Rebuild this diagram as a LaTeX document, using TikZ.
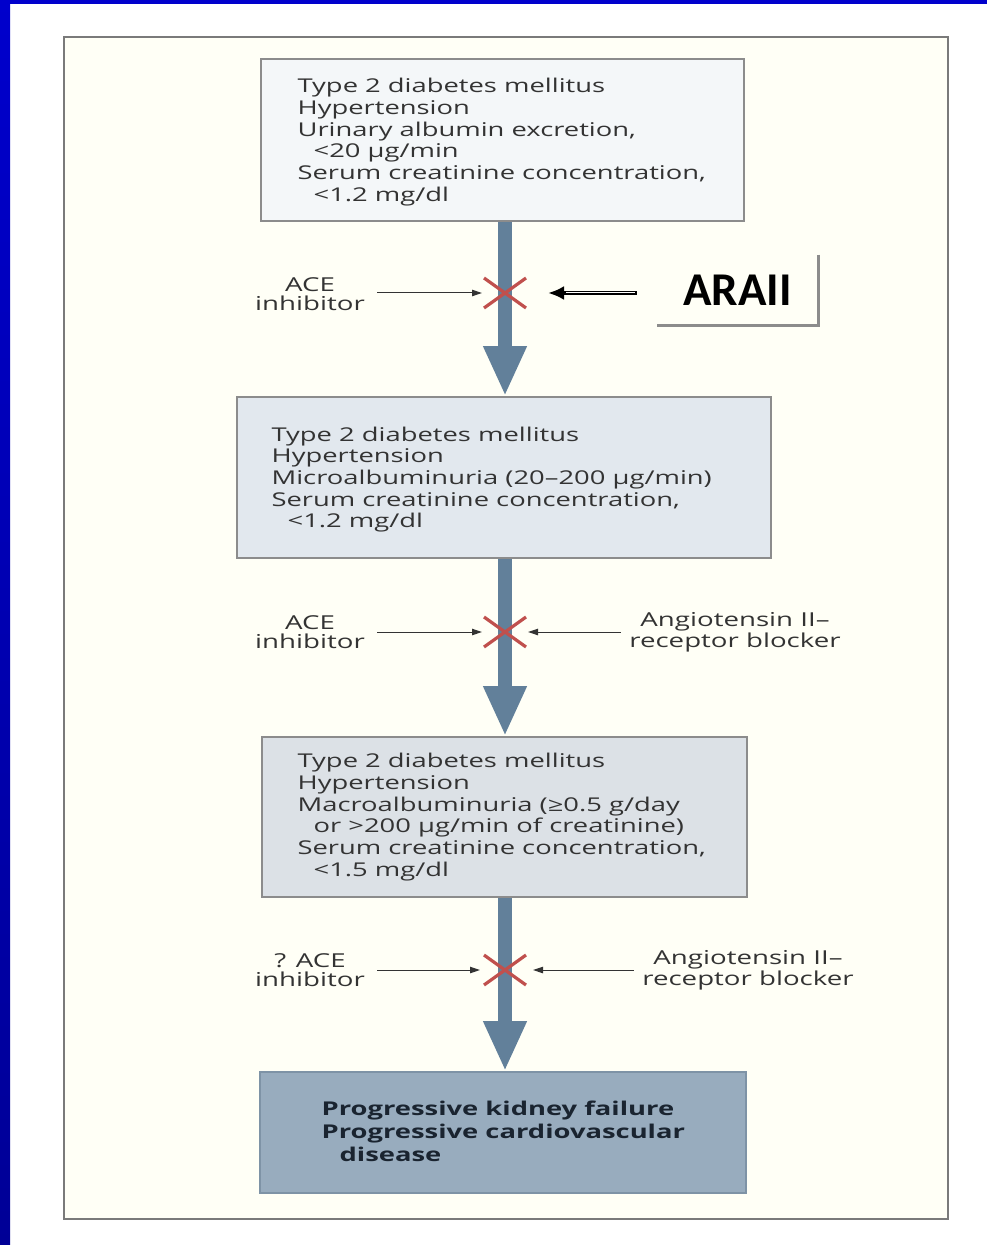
\documentclass[tikz,border=0pt]{standalone}
\usepackage{fontspec}
\setmainfont{Open Sans}
\newfontfamily\boxfont[FakeStretch=1.44]{Open Sans}
\newfontfamily\calfont{Carlito}
\usetikzlibrary{arrows.meta,calc}
\definecolor{blueA}{HTML}{0000CC}
\definecolor{blueB}{HTML}{000096}
\definecolor{cream}{HTML}{FFFFF6}
\definecolor{frameline}{HTML}{7A7A7A}
\definecolor{boxline}{HTML}{8C8C8C}
\definecolor{fillA}{HTML}{F4F7F9}
\definecolor{fillB}{HTML}{E2E8EE}
\definecolor{fillC}{HTML}{DCE1E6}
\definecolor{fillD}{HTML}{98ACBE}
\definecolor{lineD}{HTML}{7E93A6}
\definecolor{shaftc}{HTML}{62809A}
\definecolor{crossred}{HTML}{C0504D}
\definecolor{textgray}{HTML}{333333}
\definecolor{darktext}{HTML}{1A2430}
\begin{document}
\begin{tikzpicture}[x=0.5pt,y=-0.5pt,
  box/.style={draw=boxline, line width=0.8pt, inner sep=0pt},
  txt/.style={font=\boxfont\fontsize{9.5}{10.85}\selectfont, text=textgray, align=left, inner sep=0pt, anchor=west},
  boldtxt/.style={font=\boxfont\bfseries\fontsize{9.5}{11.5}\selectfont, text=darktext, align=left, inner sep=0pt, anchor=west},
  lab/.style={font=\boxfont\fontsize{9.6}{9.5}\selectfont, text=textgray, align=center, inner sep=0pt},
  shaft/.style={draw=shaftc, line width=7pt, -{Triangle[width=20pt,length=25pt]}},
  thinarrow/.style={draw=black!80, line width=0.5pt, -{Triangle[width=3.2pt,length=5pt]}},
  cross/.style={draw=crossred, line width=1.6pt},
]
\useasboundingbox (0,0) rectangle (987,1245);
\fill[white] (0,0) rectangle (987,1245);
\shade[top color=blueA, bottom color=blueB] (0,0) rectangle (10,1245);
\fill[blueA] (0,0) rectangle (987,4);
% outer frame
\draw[frameline, line width=1pt, fill=cream] (64,37) rectangle (948,1219);

% boxes
\node[box, fill=fillA, minimum width=241.5pt, minimum height=81pt] (b1) at (502.5,140) {};
\node[txt] (t1) at ($(b1.west)+(37,2)$) {Type 2 diabetes mellitus\\Hypertension\\Urinary albumin excretion,\\\hspace*{8pt}<20 μg/min\\Serum creatinine concentration,\\\hspace*{8pt}<1.2 mg/dl};

\node[box, fill=fillB, minimum width=267pt, minimum height=80.5pt] (b2) at (504,477.5) {};
\node[txt] (t2) at ($(b2.west)+(35,2)$) {Type 2 diabetes mellitus\\Hypertension\\Microalbuminuria (20–200 μg/min)\\Serum creatinine concentration,\\\hspace*{8pt}<1.2 mg/dl};

\node[box, fill=fillC, minimum width=242.5pt, minimum height=80pt] (b3) at (504.5,817) {};
\node[txt] (t3) at ($(b3.west)+(36,0)$) {Type 2 diabetes mellitus\\Hypertension\\Macroalbuminuria (≥0.5 g/day\\\hspace*{8pt}or >200 μg/min of creatinine)\\Serum creatinine concentration,\\\hspace*{8pt}<1.5 mg/dl};

\node[box, draw=lineD, fill=fillD, minimum width=243pt, minimum height=60.5pt] (b4) at (503,1132.5) {};
\node[boldtxt] (t4) at ($(b4.west)+(62,-1)$) {Progressive kidney failure\\Progressive cardiovascular\\\hspace*{9pt}disease};

% crossing points
\coordinate (x1) at (505,293);
\coordinate (x2) at (505,632);
\coordinate (x3) at (505,970);

% main shafts
\draw[shaft] (b1.south -| x1) -- (b2.north -| x1);
\draw[shaft] (b2.south -| x2) -- (b3.north -| x2);
\draw[shaft] (b3.south -| x3) -- (b4.north -| x3);

% red crosses
\foreach \c in {x1,x2,x3}{
  \draw[cross] ($(\c)+(-21,-15)$) -- ($(\c)+(21,15)$);
  \draw[cross] ($(\c)+(-21,15)$) -- ($(\c)+(21,-15)$);
}

% row 1
\node[lab] (ace1) at (310,294) {ACE\\inhibitor};
\coordinate (x1w) at (482,293);
\draw[thinarrow, shorten <=6pt] (ace1.east |- x1w) -- (x1w);
\node[minimum width=80.5pt, minimum height=35pt, inner sep=0pt, font=\calfont\bfseries\fontsize{23.5}{25}\selectfont] (araii) at (737.5,290) {ARAII};
\draw[boxline, line width=1.2pt] (araii.north east) -- (araii.south east) -- (araii.south west);
\coordinate (x1e) at (548,293);
\coordinate (x1m) at (566,293);
\draw[black, line width=2pt, shorten <=10pt, -{Latex[length=8pt,width=7pt]}] (araii.west |- x1e) -- (x1e);
\draw[white, line width=0.5pt, shorten <=11pt] (araii.west |- x1m) -- (x1m);

% row 2
\node[lab] (ace2) at (310,632) {ACE\\inhibitor};
\coordinate (x2w) at (482,632);
\draw[thinarrow, shorten <=6pt] (ace2.east |- x2w) -- (x2w);
\node[lab] (arb2) at (735,632) {Angiotensin II–\\receptor blocker};
\coordinate (x2e) at (528,632);
\draw[thinarrow, shorten <=4pt] (arb2.west |- x2e) -- (x2e);

% row 3
\node[lab] (ace3) at (310,970) {? ACE\\inhibitor};
\coordinate (x3w) at (480,970);
\draw[thinarrow, shorten <=6pt] (ace3.east |- x3w) -- (x3w);
\node[lab] (arb3) at (748,970) {Angiotensin II–\\receptor blocker};
\coordinate (x3e) at (533,970);
\draw[thinarrow, shorten <=4pt] (arb3.west |- x3e) -- (x3e);
\end{tikzpicture}
\end{document}
